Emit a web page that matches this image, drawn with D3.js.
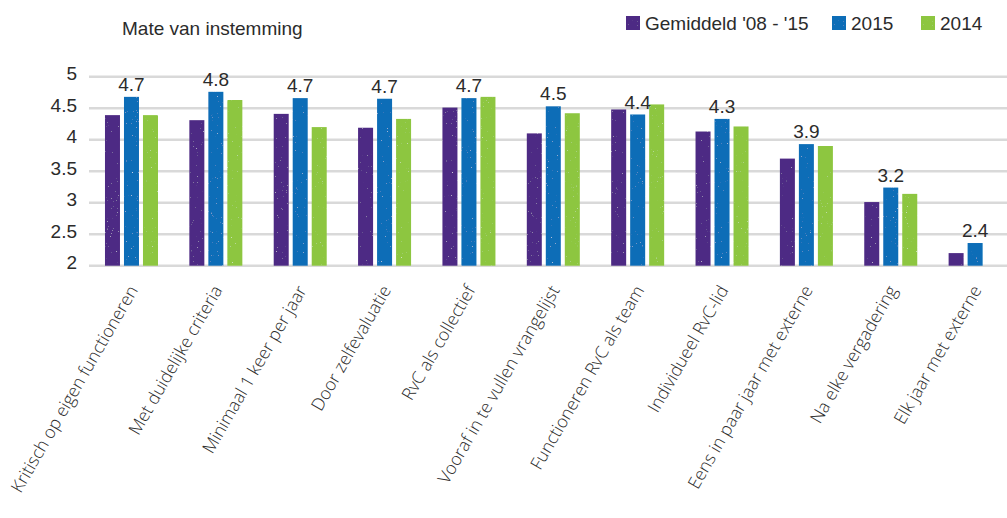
<!DOCTYPE html>
<html>
<head>
<meta charset="utf-8">
<script src="https://cdn.jsdelivr.net/npm/d3@7"></script>
<style>
  html, body { margin: 0; padding: 0; background: #fff; }
  svg { display: block; }
</style>
</head>
<body>
<svg id="chart" width="1007" height="518"></svg>
<script>
// Evaluation aspects of the supervisory board (RvC), mean agreement score
const categories = [
  "Kritisch op eigen functioneren",
  "Met duidelijke criteria",
  "Minimaal 1 keer per jaar",
  "Door zelfevaluatie",
  "RvC als collectief",
  "Vooraf in te vullen vrangelijst",
  "Functioneren RvC als team",
  "Individueel RvC-lid",
  "Eens in paar jaar met externe",
  "Na elke vergadering",
  "Elk jaar met externe"
];
const seriesNames = ["Gemiddeld '08 - '15", "2015", "2014"];
const seriesColors = ["#4e2a84", "#0b6db7", "#8dc63f"];
const avg0815 = [4.39, 4.31, 4.41, 4.19, 4.51, 4.10, 4.48, 4.13, 3.70, 3.01, 2.20];
const y2015   = [4.68, 4.76, 4.66, 4.65, 4.66, 4.53, 4.40, 4.33, 3.93, 3.24, 2.36];
const y2014   = [4.39, 4.63, 4.20, 4.33, 4.68, 4.42, 4.56, 4.21, 3.90, 3.14, null];
const yTicks  = [2, 2.5, 3, 3.5, 4, 4.5, 5];
const yTitle  = "Mate van instemming";

const seriesValues = [avg0815, y2015, y2014];
const labelSeries = 1; // value labels sit above the 2015 bars

const svg = d3.select("#chart");
const W = 1007;
const numFont = "'Liberation Sans', Arial, sans-serif";
const catFont = "'Open Sans', 'Noto Sans', sans-serif";

// Printed-grain look: sparse pale specks inside each filled shape
const defs = svg.append("defs");
const grain = defs.append("filter").attr("id", "grain")
  .attr("x", 0).attr("y", 0).attr("width", 1).attr("height", 1);
grain.append("feTurbulence").attr("type", "fractalNoise")
  .attr("baseFrequency", 0.8).attr("numOctaves", 2).attr("seed", 7).attr("result", "noise");
grain.append("feColorMatrix").attr("in", "noise").attr("type", "matrix")
  .attr("values", "0 0 0 0 1  0 0 0 0 1  0 0 0 0 1  3.2 0 0 0 -2.35").attr("result", "specks");
grain.append("feComposite").attr("in", "specks").attr("in2", "SourceGraphic")
  .attr("operator", "in").attr("result", "clipped");
const merge = grain.append("feMerge");
merge.append("feMergeNode").attr("in", "SourceGraphic");
merge.append("feMergeNode").attr("in", "clipped");

const y = d3.scaleLinear().domain([2, 5]).range([265.7, 76.7]);
const x0 = d3.scaleBand().domain(categories).range([89.3, 1017.3]).padding(0);
const half = x0.bandwidth() / 2;
const x1 = d3.scaleBand().domain(seriesNames)
  .range([half - 26.5, half + 26.5]).paddingInner(4 / 19).paddingOuter(0);

// Gridlines
svg.append("g").selectAll("line").data(yTicks).join("line")
  .attr("x1", 89).attr("x2", W)
  .attr("y1", d => y(d)).attr("y2", d => y(d))
  .attr("stroke", "#d9d9d9").attr("stroke-width", 2.5);

// Y axis tick labels
svg.append("g").selectAll("text").data(yTicks).join("text")
  .attr("x", 77).attr("y", d => y(d) + 3.5)
  .attr("text-anchor", "end")
  .attr("font-family", numFont).attr("font-size", 19)
  .attr("fill", "#2b2b2b")
  .text(d => d3.format("~g")(d));

// Bars
const rows = [];
categories.forEach((c, i) => {
  seriesNames.forEach((s, j) => {
    const v = seriesValues[j][i];
    if (v != null) rows.push({ c, s, j, v });
  });
});
svg.append("g").selectAll("rect").data(rows).join("rect")
  .attr("x", d => x0(d.c) + x1(d.s))
  .attr("width", x1.bandwidth())
  .attr("y", d => y(d.v))
  .attr("height", d => y(2) - y(d.v))
  .attr("fill", d => seriesColors[d.j])
  .attr("filter", "url(#grain)");

// Value labels
svg.append("g").selectAll("text").data(categories).join("text")
  .attr("x", c => x0(c) + x1(seriesNames[labelSeries]) + x1.bandwidth() / 2)
  .attr("y", (c, i) => y(seriesValues[labelSeries][i]) - 6)
  .attr("text-anchor", "middle")
  .attr("font-family", numFont).attr("font-size", 19)
  .attr("fill", "#2b2b2b")
  .text((c, i) => d3.format(".1f")(seriesValues[labelSeries][i]));

// Category labels, rotated
svg.append("g").selectAll("text").data(categories).join("text")
  .attr("transform", c => `translate(${x0(c) + half + 7},${290}) rotate(-60)`)
  .attr("text-anchor", "end")
  .attr("font-family", catFont).attr("font-size", 17.5).attr("font-weight", 300)
  .attr("fill", "#2b2b2b")
  .text(c => c);

// Axis title
svg.append("text")
  .attr("x", 122).attr("y", 35)
  .attr("font-family", numFont).attr("font-size", 19)
  .attr("fill", "#2b2b2b")
  .text(yTitle);

// Legend
const legendX = [626, 832, 921];
const lg = svg.append("g").selectAll("g").data(seriesNames).join("g")
  .attr("transform", (d, i) => `translate(${legendX[i]},16)`);
lg.append("rect").attr("width", 14).attr("height", 14)
  .attr("fill", (d, i) => seriesColors[i])
  .attr("filter", "url(#grain)");
lg.append("text").attr("x", 19).attr("y", 14)
  .attr("font-family", numFont).attr("font-size", 19)
  .attr("fill", "#2b2b2b")
  .text(d => d);
</script>
</body>
</html>
